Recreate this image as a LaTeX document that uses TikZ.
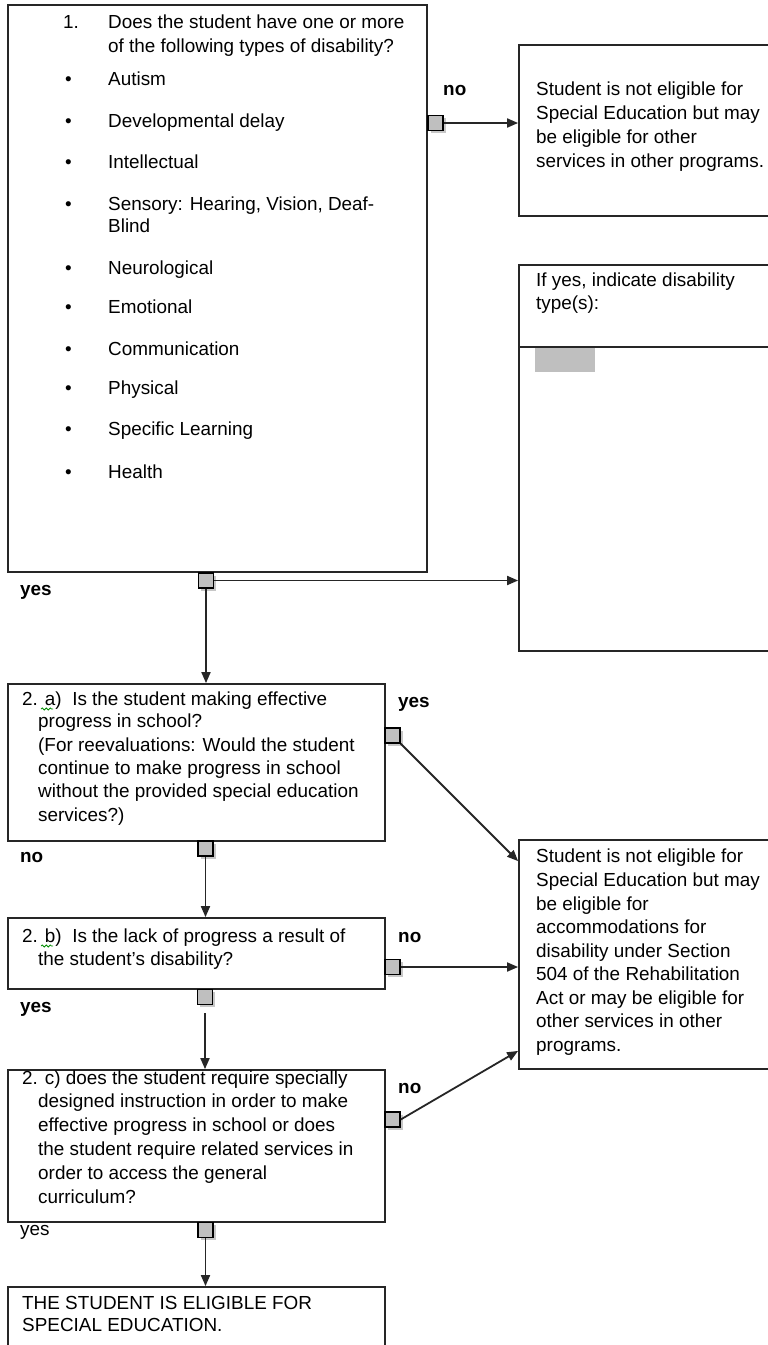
\documentclass[tikz,border=0pt]{standalone}
\usepackage{fontspec}
\setmainfont{Liberation Sans}
\usetikzlibrary{arrows.meta,shadows,decorations.pathmorphing}
\begin{document}
\begin{tikzpicture}[x=1pt,y=-1pt,
  box/.style={draw=black!85,line width=1.8pt,rectangle,inner sep=0pt},
  handle/.style={draw=black,line width=1.4pt,fill=black!25,minimum size=15pt,inner sep=0pt,
     drop shadow={shadow xshift=2.5pt,shadow yshift=-2.5pt,fill=black!22,opacity=1}},
  conn/.style={draw=black!85,line width=1.8pt},
  arr/.style={conn,-{Triangle[length=11pt,width=9pt]}},
  txt/.style={anchor=base west,inner sep=0pt,font=\fontsize{18.9}{23}\selectfont},
  lbl/.style={anchor=base west,inner sep=0pt,font=\fontsize{18.9}{23}\selectfont\bfseries},
  squig/.style={draw=green!55!black,line width=0.8pt,decorate,decoration={snake,amplitude=1pt,segment length=4pt}}
]
\clip (0,0) rectangle (768,1345);
\fill[white] (0,0) rectangle (768,1345);

% boxes
\node[box,minimum width=419pt,minimum height=567pt] (q1) at (217.5,288.5) {};
\node[box,minimum width=261pt,minimum height=171pt] (nse) at (649.5,130.5) {};
\node[box,minimum width=261pt,minimum height=386pt] (ifyes) at (649.5,458) {};
\node[box,minimum width=377pt,minimum height=157pt] (q2a) at (196.5,762.5) {};
\node[box,minimum width=261pt,minimum height=229pt] (n504) at (649.5,954.5) {};
\node[box,minimum width=377pt,minimum height=71pt] (q2b) at (196.5,953.5) {};
\node[box,minimum width=377pt,minimum height=152pt] (q2c) at (196.5,1146) {};
\node[box,minimum width=377pt,minimum height=73pt] (elig) at (196.5,1323.5) {};

% divider and grey field in "If yes" box
\draw[line width=1.8pt,draw=black!85] (ifyes.west |- 0,347) coordinate (dl) -- (ifyes.east |- 0,347) coordinate (dr);
\node[fill=black!25,minimum width=60pt,minimum height=24pt,inner sep=0pt] (field) at (565,360) {};

% box 1 text
\node[txt] (n1) at (63,28) {1.};
\node[txt] (t1a) at (108,28) {Does the student have one or more};
\node[txt] (t1b) at (108,52) {of the following types of disability?};
\foreach \y/\t [count=\i] in {85/Autism,127/Developmental delay,168/Intellectual,210/{Sensory: Hearing, Vision, Deaf-},274/Neurological,313/Emotional,355/Communication,394/Physical,435/Specific Learning,478/Health}{
  \node[txt] (b\i) at (65,\y) {•};
  \node[txt] (it\i) at (108,\y) {\t};
}
\node[txt] (it4b) at (108,232) {Blind};

% top right box text
\node[txt,align=left,anchor=north west,font=\fontsize{18.9}{24}\selectfont] (tnse) at (536,82)
 {Student is not eligible for\\Special Education but may\\be eligible for other\\services in other programs.};

% if yes box text
\node[txt,align=left,anchor=north west,font=\fontsize{18.9}{22.5}\selectfont] (tif) at (536,273)
 {If yes, indicate disability\\type(s):};

% 2a text
\node[txt] (a1) at (22,705) {2. a)\ \ Is the student making effective};
\node[txt,align=left,anchor=north west,font=\fontsize{18.9}{23.3}\selectfont] (a2) at (38,714)
 {progress in school?\\(For reevaluations: Would the student\\continue to make progress in school\\without the provided special education\\services?)};
\draw[squig] (41,709) -- (53,709);

% 504 box text
\node[txt,align=left,anchor=north west,font=\fontsize{18.9}{23.55}\selectfont] (t504) at (536,849)
 {Student is not eligible for\\Special Education but may\\be eligible for\\accommodations for\\disability under Section\\504 of the Rehabilitation\\Act or may be eligible for\\other services in other\\programs.};

% 2b text
\node[txt] (b1t) at (22,942) {2. b)\ \ Is the lack of progress a result of};
\node[txt] (b2t) at (38,965) {the student's disability?};
\draw[squig] (41,946) -- (53,946);

% 2c text
\node[txt] (c1) at (22,1084) {2. c) does the student require specially};
\node[txt,align=left,anchor=north west,font=\fontsize{18.9}{23.8}\selectfont] (c2) at (38,1094)
 {designed instruction in order to make\\effective progress in school or does\\the student require related services in\\order to access the general\\curriculum?};

% final text
\node[txt,align=left,anchor=north west,font=\fontsize{18.9}{22}\selectfont] (tel) at (22,1296)
 {THE STUDENT IS ELIGIBLE FOR\\SPECIAL EDUCATION.};

% labels
\node[lbl] (l1) at (443,95) {no};
\node[lbl] (l2) at (20,595) {yes};
\node[lbl] (l3) at (398,707) {yes};
\node[lbl] (l4) at (20,862) {no};
\node[lbl] (l5) at (398,942) {no};
\node[lbl] (l6) at (20,1012) {yes};
\node[lbl] (l7) at (398,1093) {no};
\node[txt] (l8) at (20,1235) {yes};

% handles
\node[handle] (s1) at (435.5,123) {};
\node[handle] (s2) at (206,580.5) {};
\node[handle] (s3) at (392.5,735.5) {};
\node[handle] (s4) at (205.5,848.5) {};
\node[handle] (s5) at (392.5,967) {};
\node[handle] (s6) at (205,997) {};
\node[handle] (s7) at (392.5,1119.5) {};
\node[handle] (s8) at (205.5,1230) {};

% connectors
\draw[arr] (s1.east) -- (s1.east -| nse.west);
\draw[arr] (s2.east) -- (s2.east -| ifyes.west);
\draw[arr] (s2.south) -- (s2.south |- q2a.north);
\draw[arr] (s3.south east) -- ([yshift=-22pt]n504.north west);
\draw[arr] (s4.south) -- (s4.south |- q2b.north);
\draw[arr] (s5.east) -- (s5.east -| n504.west);
\draw[arr] ([yshift=-8pt]s6.south) -- (s6.south |- q2c.north);
\draw[arr] (s7.east) -- ([yshift=19pt]n504.south west);
\draw[arr] (s8.south) -- (s8.south |- elig.north);
\end{tikzpicture}
\end{document}
